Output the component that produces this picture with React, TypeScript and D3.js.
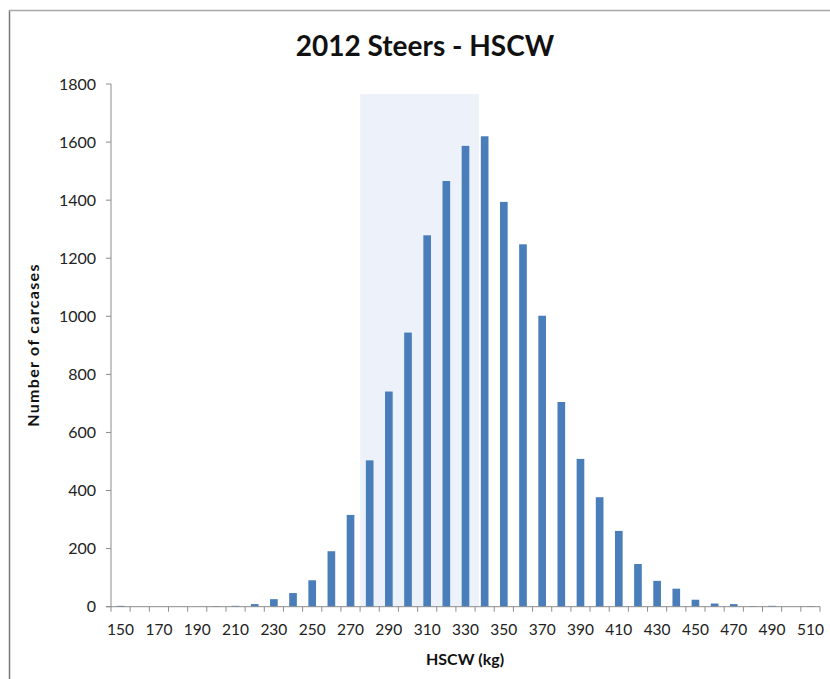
import React from "react";
import * as d3 from "d3";

// Hot standard carcase weight bins (kg) and number of carcases in each
const weights: number[] = [
  150, 160, 170, 180, 190, 200, 210, 220, 230, 240, 250, 260, 270, 280, 290,
  300, 310, 320, 330, 340, 350, 360, 370, 380, 390, 400, 410, 420, 430, 440,
  450, 460, 470, 480, 490, 500, 510,
];
const counts: number[] = [
  3, 0, 0, 0, 0, 2, 3, 9, 26, 47, 91, 191, 316, 504, 741,
  944, 1279, 1466, 1587, 1620, 1394, 1248, 1002, 705, 509, 377, 261, 147, 89, 62,
  24, 11, 9, 2, 3, 0, 2,
];
const yTicks: number[] = [0, 200, 400, 600, 800, 1000, 1200, 1400, 1600, 1800];
const xLabels: number[] = weights.filter((_, i) => i % 2 === 0);

// Highlighted target weight range (kg) and its height on the count axis
const targetRange: [number, number] = [275, 337];
const targetTop = 1765;

const W = 830;
const H = 679;
const plot = { left: 111, right: 820, top: 84, bottom: 606.7 };

const FONT = "Lato, 'Open Sans', sans-serif";
const AXIS = "#8c8c8c";
const BAR = "#4a7ebb";

export default function App() {
  const x = d3
    .scaleBand<number>()
    .domain(weights)
    .range([plot.left, plot.right])
    .paddingInner(0)
    .paddingOuter(0);
  const step = x.step();
  const barW = step * 0.4;

  // continuous kg scale aligned with the category bands
  const kg = d3
    .scaleLinear()
    .domain([weights[0] - 5, weights[weights.length - 1] + 5])
    .range([plot.left, plot.right]);

  const y = d3.scaleLinear().domain([0, 1800]).range([plot.bottom, plot.top]);

  const boundaries = d3.range(weights.length + 1).map((i) => plot.left + i * step);

  return (
    <svg
      width={W}
      height={H}
      style={{ position: "absolute", left: 0, top: 0, display: "block", background: "#fff" }}
    >
      {/* frame */}
      <line x1={9.5} x2={9.5} y1={10} y2={H} stroke="#7a7a7a" strokeWidth={1.5} />
      <line x1={9} x2={W} y1={10.5} y2={10.5} stroke="#a8a8a8" strokeWidth={1.5} />

      <text
        x={425}
        y={56}
        textAnchor="middle"
        fontFamily={FONT}
        fontWeight="bold"
        fontSize={28}
        fill="#111"
      >
        2012 Steers - HSCW
      </text>

      {/* target range */}
      <rect
        x={kg(targetRange[0])}
        y={y(targetTop)}
        width={kg(targetRange[1]) - kg(targetRange[0])}
        height={y(0) - y(targetTop)}
        fill="#edf2fa"
      />

      {/* bars */}
      {weights.map((w, i) => (
        <rect
          key={w}
          x={(x(w) as number) + (step - barW) / 2}
          y={y(counts[i])}
          width={barW}
          height={y(0) - y(counts[i])}
          fill={BAR}
        />
      ))}

      {/* y axis */}
      <line x1={plot.left} x2={plot.left} y1={y(1800)} y2={y(0)} stroke={AXIS} strokeWidth={1} />
      {yTicks.map((t) => (
        <g key={t}>
          <line x1={plot.left - 5} x2={plot.left} y1={y(t)} y2={y(t)} stroke={AXIS} />
          <text
            x={96}
            y={y(t)}
            dy="0.35em"
            textAnchor="end"
            fontFamily={FONT}
            fontSize={16}
            fill="#222"
          >
            {t}
          </text>
        </g>
      ))}

      {/* x axis */}
      <line x1={plot.left - 5} x2={plot.right} y1={y(0)} y2={y(0)} stroke={AXIS} strokeWidth={1} />
      {boundaries.map((bx, i) => (
        <line key={i} x1={bx} x2={bx} y1={y(0)} y2={y(0) + 5} stroke={AXIS} />
      ))}
      {xLabels.map((w) => (
        <text
          key={w}
          x={(x(w) as number) + step / 2}
          y={635}
          textAnchor="middle"
          fontFamily={FONT}
          fontSize={15.5}
          fill="#222"
        >
          {w}
        </text>
      ))}

      <text
        x={465}
        y={665}
        textAnchor="middle"
        fontFamily={FONT}
        fontWeight="bold"
        fontSize={16}
        fill="#111"
      >
        HSCW (kg)
      </text>
      <text
        transform={`translate(39, 345) rotate(-90)`}
        textAnchor="middle"
        fontFamily={FONT}
        fontWeight="bold"
        fontSize={16}
        letterSpacing={1.3}
        fill="#111"
      >
        Number of carcases
      </text>
    </svg>
  );
}
